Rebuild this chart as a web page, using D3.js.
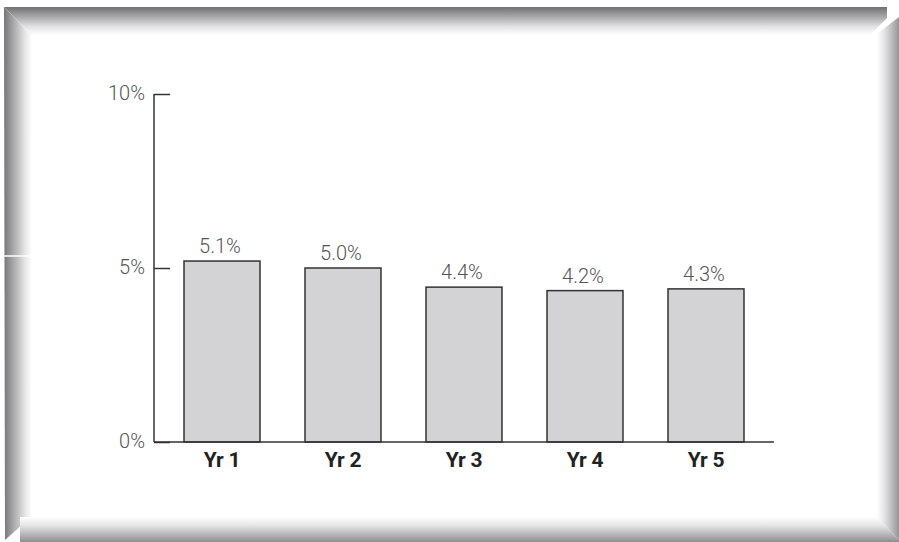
<!DOCTYPE html>
<html>
<head>
<meta charset="utf-8">
<script src="https://cdn.jsdelivr.net/npm/d3@7"></script>
<style>
  body { margin: 0; background: #fff; }
  svg { display: block; }
</style>
</head>
<body>
<div id="chart"></div>
<script>
const width = 899,
  height = 542

// bar heights as drawn, and the labels printed above them
const years = ["Yr 1", "Yr 2", "Yr 3", "Yr 4", "Yr 5"]
const values = [5.2, 5.0, 4.45, 4.35, 4.4]
const valueLabels = ["5.1%", "5.0%", "4.4%", "4.2%", "4.3%"]
const yTicks = [0, 5, 10]

const svg = d3.select("#chart")
  .append("svg")
  .attr("width", width)
  .attr("height", height)

const defs = svg.append("defs")

//Gradients for the bevelled frame
function gradient(id, x1, y1, x2, y2, stops) {
  const g = defs.append("linearGradient")
    .attr("id", id)
    .attr("x1", x1).attr("y1", y1)
    .attr("x2", x2).attr("y2", y2)
  stops.forEach(s => {
    g.append("stop").attr("offset", s[0]).attr("stop-color", s[1])
  })
}
gradient("gTop", 0, 0, 0, 1, [[0, "#707072"], [0.35, "#a8a8aa"], [0.7, "#e2e2e3"], [1, "#ffffff"]])
gradient("gLeft", 0, 0, 1, 0, [[0, "#767678"], [0.35, "#aaaaac"], [0.75, "#e6e6e7"], [1, "#ffffff"]])
gradient("gRight", 0, 0, 1, 0, [[0, "#ffffff"], [0.35, "#e2e2e3"], [0.7, "#b8b8ba"], [1, "#959597"]])
gradient("gBottom", 0, 0, 0, 1, [[0, "#ffffff"], [0.35, "#e4e4e5"], [0.7, "#b6b6b8"], [1, "#8e8e90"]])

const frame = svg.append("g").attr("class", "frame")
const frameParts = [
  { fill: "url(#gTop)", pts: [[4, 7], [887, 7], [887, 18], [870, 35], [32, 35]] },
  { fill: "url(#gLeft)", pts: [[4, 7], [32, 35], [31, 517], [5, 540]] },
  { fill: "url(#gRight)", pts: [[899, 17], [878, 33], [877, 517], [899, 540]] },
  { fill: "url(#gBottom)", pts: [[20, 517], [877, 517], [899, 540], [899, 542], [20, 542]] }
]
frame.selectAll("polygon")
  .data(frameParts)
  .join("polygon")
  .attr("points", d => d.pts.map(p => p.join(",")).join(" "))
  .attr("fill", d => d.fill)

// small white nick in the left bevel
frame.append("line")
  .attr("x1", 4).attr("x2", 32)
  .attr("y1", 256).attr("y2", 256)
  .attr("stroke", "#fff")
  .attr("stroke-width", 1.5)

//Scales
const x = d3.scaleBand()
  .domain(years)
  .range([154, 774])
  .paddingInner(0.372)
  .paddingOuter(0.248)

const y = d3.scaleLinear()
  .domain([0, 10])
  .range([442, 94])

const g = svg.append("g").attr("class", "chart")

//Bars
g.selectAll(".bar")
  .data(values)
  .join("rect")
  .attr("class", "bar")
  .attr("x", (d, i) => x(years[i]))
  .attr("y", d => y(d))
  .attr("width", x.bandwidth())
  .attr("height", d => y(0) - y(d))
  .attr("fill", "#d3d3d5")
  .attr("stroke", "#333")
  .attr("stroke-width", 1.5)

//Value labels
g.selectAll(".valueLabel")
  .data(values)
  .join("text")
  .attr("class", "valueLabel")
  .attr("x", (d, i) => x(years[i]) + x.bandwidth() / 2 - 2)
  .attr("y", d => y(d) - 8)
  .attr("text-anchor", "middle")
  .attr("font-family", "Roboto")
  .attr("font-weight", 300)
  .attr("font-size", 20)
  .attr("fill", "#555")
  .text((d, i) => valueLabels[i])

//Y axis, ticks pointing inward
const yAxis = d3.axisRight(y)
  .tickValues(yTicks)
  .tickSize(16)
  .tickFormat(d => d + "%")

const ya = g.append("g")
  .attr("transform", "translate(154,0)")
  .call(yAxis)
ya.select(".domain")
  .attr("d", `M0,${y(10)}V${y(0)}`)
  .attr("stroke", "#333")
  .attr("stroke-width", 1.5)
ya.selectAll(".tick line")
  .attr("stroke", "#333")
  .attr("stroke-width", 1.5)
ya.selectAll(".tick text")
  .attr("x", -9)
  .attr("dy", "0.25em")
  .attr("text-anchor", "end")
  .attr("font-family", "Roboto")
  .attr("font-weight", 300)
  .attr("font-size", 20)
  .attr("fill", "#555")

//X axis
const xAxis = d3.axisBottom(x).tickSize(0).tickPadding(10)
const xa = g.append("g")
  .attr("transform", `translate(0,${y(0)})`)
  .call(xAxis)
xa.select(".domain")
  .attr("d", "M154,0H774")
  .attr("stroke", "#333")
  .attr("stroke-width", 1.5)
xa.selectAll(".tick text")
  .attr("dy", "0.71em")
  .attr("font-family", "Roboto")
  .attr("font-weight", 700)
  .attr("font-size", 21)
  .attr("letter-spacing", -0.3)
  .attr("fill", "#222")
</script>
</body>
</html>
